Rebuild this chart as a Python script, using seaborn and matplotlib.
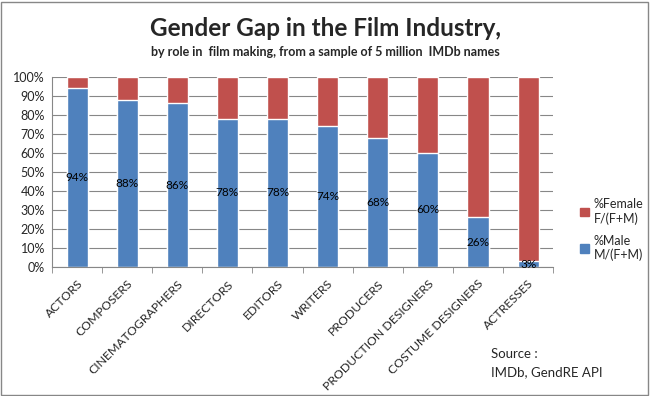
import pandas as pd
import matplotlib.pyplot as plt
import seaborn as sns
from matplotlib.patches import Rectangle, Patch
from matplotlib.ticker import PercentFormatter

# donnees
roles = ['ACTORS', 'COMPOSERS', 'CINEMATOGRAPHERS', 'DIRECTORS', 'EDITORS', 'WRITERS',
         'PRODUCERS', 'PRODUCTION DESIGNERS', 'COSTUME DESIGNERS', 'ACTRESSES']
male_pct = [94, 88, 86, 78, 78, 74, 68, 60, 26, 3]
female_pct = [100 - m for m in male_pct]

df = pd.DataFrame({'role': roles, 'male': male_pct, 'female': female_pct})
df['total'] = df['male'] + df['female']

blue = '#4F81BD'
red = '#C0504D'

sns.set_style('white')
plt.rcParams['font.family'] = ['Lato', 'DejaVu Sans']

fig = plt.figure(figsize=(6.5, 3.96), dpi=100)
ax = fig.add_axes([0.08, 0.326, 0.771, 0.48])

sns.barplot(data=df, x='role', y='total', color=red, width=0.42, ax=ax, saturation=1)
sns.barplot(data=df, x='role', y='male', color=blue, width=0.42, ax=ax, saturation=1)

for i, m in enumerate(male_pct):
    ax.text(i, m / 2 if m > 5 else 1.5, f'{m}%', ha='center', va='center', fontsize=8.5, color='black')

ax.set_ylim(0, 100)
ax.set_xlim(-0.5, len(roles) - 0.5)
ax.set_yticks(range(0, 101, 10))
ax.yaxis.set_major_formatter(PercentFormatter(decimals=0))
ax.yaxis.grid(True, color='#878787', lw=0.8)
ax.set_axisbelow(True)
ax.set_xlabel('')
ax.set_ylabel('')

ax.set_xticks(range(len(roles)))
ax.set_xticklabels(roles, rotation=45, ha='right', rotation_mode='anchor', fontsize=8.8)
ax.set_xticks([i - 0.5 for i in range(len(roles) + 1)], minor=True)
ax.tick_params(axis='x', which='major', length=0, pad=8)
ax.tick_params(axis='x', which='minor', length=4, color='#878787', direction='out', bottom=True)
ax.tick_params(axis='y', length=0, labelsize=9, pad=5)

for side in ['top', 'right']:
    ax.spines[side].set_visible(False)
for side in ['left', 'bottom']:
    ax.spines[side].set_color('#878787')
    ax.spines[side].set_linewidth(0.8)

handles = [Patch(color=red, label='%Female\nF/(F+M)'), Patch(color=blue, label='%Male\nM/(F+M)')]
fig.legend(handles=handles, loc='center left', bbox_to_anchor=(0.875, 0.42), frameon=False,
           fontsize=9, handlelength=0.7, handleheight=0.7, handletextpad=0.4, labelspacing=0.8)

fig.text(0.5, 0.928, 'Gender Gap in the Film Industry,', ha='center', va='center',
         fontsize=17.5, fontweight='bold')
fig.text(0.5, 0.868, 'by role in  film making, from a sample of 5 million  IMDb names', ha='center',
         va='center', fontsize=9, fontweight='bold')
fig.text(0.755, 0.105, 'Source :', fontsize=9.5, va='center')
fig.text(0.755, 0.06, 'IMDb, GendRE API', fontsize=9.5, va='center')

fig.patches.append(Rectangle((0.002, 0.003), 0.995, 0.993, transform=fig.transFigure,
                             fill=False, edgecolor='#878787', lw=1))

plt.savefig('out.png', dpi=100)
